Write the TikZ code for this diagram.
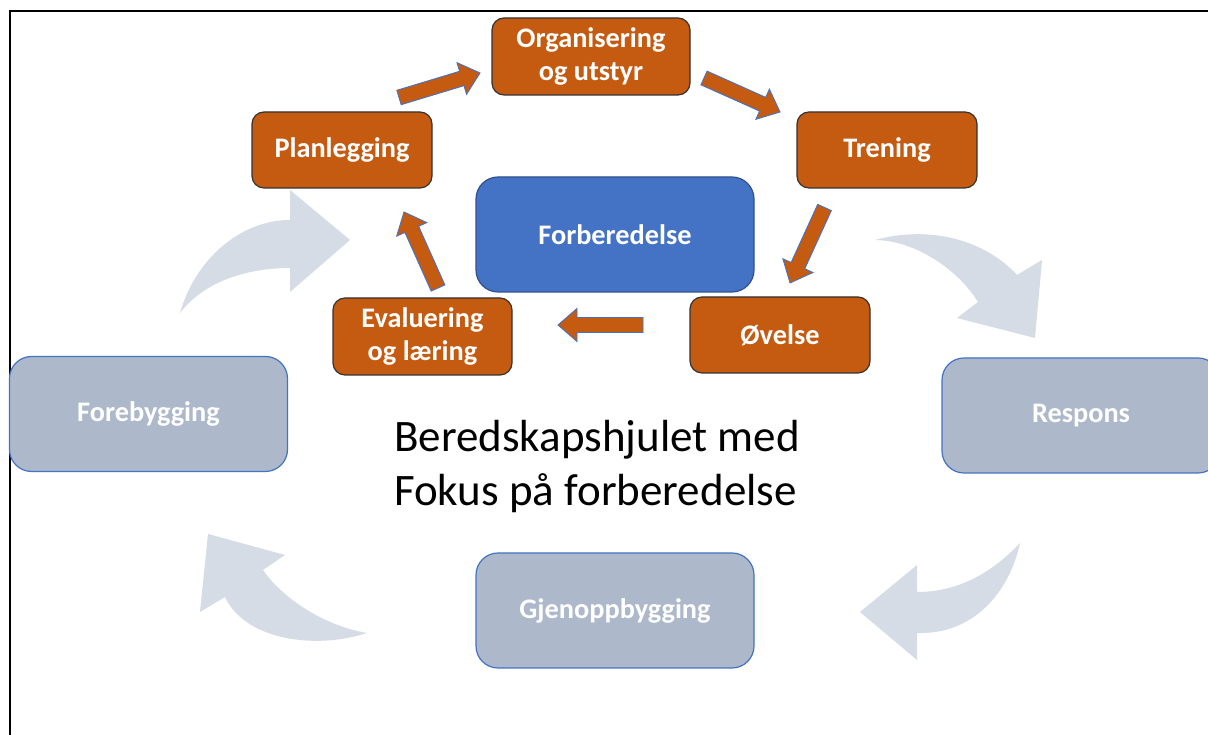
\documentclass[tikz,border=0pt]{standalone}
\usepackage{fontspec}
\setmainfont{Carlito}
\usetikzlibrary{calc}

\definecolor{prepblue}{HTML}{4472C4}
\definecolor{prepblueline}{HTML}{2F528F}
\definecolor{rust}{HTML}{C55A11}
\definecolor{phasegray}{HTML}{ADB9CA}
\definecolor{paleflow}{HTML}{D6DCE5}

\newcommand\labelfont{\fontsize{28.3}{33}\selectfont\bfseries}
\newcommand\titlefont{\fontsize{45}{54}\selectfont}

% straight block arrow between two named coordinates
\newcommand\stepflow[2]{%
  \path let \p1=($(#2)-(#1)$) in \pgfextra{%
    \pgfmathsetmacro\flowang{atan2(\y1,\x1)}%
    \pgfmathsetmacro\flowlen{veclen(\x1,\y1)}%
    \global\let\flowang\flowang
    \global\let\flowlen\flowlen};
  \filldraw[stepflowarrow, shift={(#1)}, rotate=\flowang]
    (0,-7.5) -- (\flowlen-19,-7.5) -- (\flowlen-19,-16.5) -- (\flowlen,0)
    -- (\flowlen-19,16.5) -- (\flowlen-19,7.5) -- (0,7.5) -- cycle;
}

\tikzset{
  stepbox/.style={draw=black!80, line width=1.2pt, fill=rust, rounded corners=12pt,
    text=white, font=\labelfont, align=center, inner sep=0pt,
    minimum width=180pt, minimum height=76pt},
  phasebox/.style={draw=prepblue, line width=1.2pt, fill=phasegray, rounded corners=22pt,
    text=white, font=\labelfont, align=center, inner sep=0pt,
    minimum width=278pt, minimum height=115pt},
  corebox/.style={phasebox, draw=prepblueline, fill=prepblue},
  stepflowarrow/.style={fill=rust, draw=prepblue, line width=0.9pt, line join=miter},
  paleturn/.style={fill=paleflow, draw=none},
}

\begin{document}
\begin{tikzpicture}[x=1pt, y=1pt]
  \useasboundingbox (0,0) rectangle (1208,735);
  \clip (0,0) rectangle (1208,735);
  \fill[white] (0,0) rectangle (1208,735);

  % outer frame
  \draw[line width=2pt] (9.5,-20) rectangle (1240,724);

  % wide curved arrows of the outer wheel
  \path[paleturn] (180,422) .. controls (195,475) and (240,515) .. (290,515)
    -- (290,545) -- (350,495) -- (290,443) -- (290,467)
    .. controls (250,467) and (205,455) .. (180,422) -- cycle;
  \path[paleturn] (875,495) .. controls (930,510) and (985,495) .. (1017,460)
    -- (1042,475) -- (1035,397) -- (957,417) -- (978,433)
    .. controls (955,470) and (910,495) .. (875,495) -- cycle;
  \path[paleturn] (1020,192) .. controls (985,155) and (950,143) .. (917,143)
    -- (917,170) -- (860,123) -- (917,75) -- (917,102)
    .. controls (975,100) and (1010,145) .. (1020,192) -- cycle;
  \path[paleturn] (367,102) .. controls (320,110) and (280,140) .. (263,165)
    -- (285,180) -- (208,201) -- (200,123) -- (225,138)
    .. controls (245,95) and (315,85) .. (367,102) -- cycle;

  % outer phases
  \node[phasebox] (foreb) at (148.5,321) {Forebygging};
  \node[phasebox] (resp)  at (1081,319.5) {Respons};
  \node[phasebox] (gjen)  at (615,124.5) {Gjenoppbygging};

  % centre and preparation steps
  \node[corebox] (forb) at (615,500.5) {Forberedelse};
  \node[stepbox, minimum width=198pt, minimum height=77pt] (org) at (591,678.5) {Organisering\\og utstyr};
  \node[stepbox] (plan) at (342,585) {Planlegging};
  \node[stepbox] (tren) at (887,585) {Trening};
  \node[stepbox] (ovel) at (780,400) {Øvelse};
  \node[stepbox, minimum width=179pt, minimum height=77pt] (eval) at (422.5,398.5) {Evaluering\\og læring};

  % ends of the step arrows
  \coordinate (planOrgA) at (399,637.5);
  \coordinate (planOrgB) at (480,662);
  \coordinate (orgTrenA) at (704,657);
  \coordinate (orgTrenB) at (780,623);
  \coordinate (trenOvelA) at (824.5,527.5);
  \coordinate (trenOvelB) at (790,452);
  \coordinate (ovelEvalA) at (643,410);
  \coordinate (ovelEvalB) at (558,410);
  \coordinate (evalPlanA) at (438,447);
  \coordinate (evalPlanB) at (404,523);

  \stepflow{planOrgA}{planOrgB}
  \stepflow{orgTrenA}{orgTrenB}
  \stepflow{trenOvelA}{trenOvelB}
  \stepflow{ovelEvalA}{ovelEvalB}
  \stepflow{evalPlanA}{evalPlanB}

  % caption in the middle of the wheel
  \node[font=\titlefont, align=left, inner sep=0pt] (title) at (597,268)
    {Beredskapshjulet med\\Fokus på forberedelse};
\end{tikzpicture}
\end{document}
